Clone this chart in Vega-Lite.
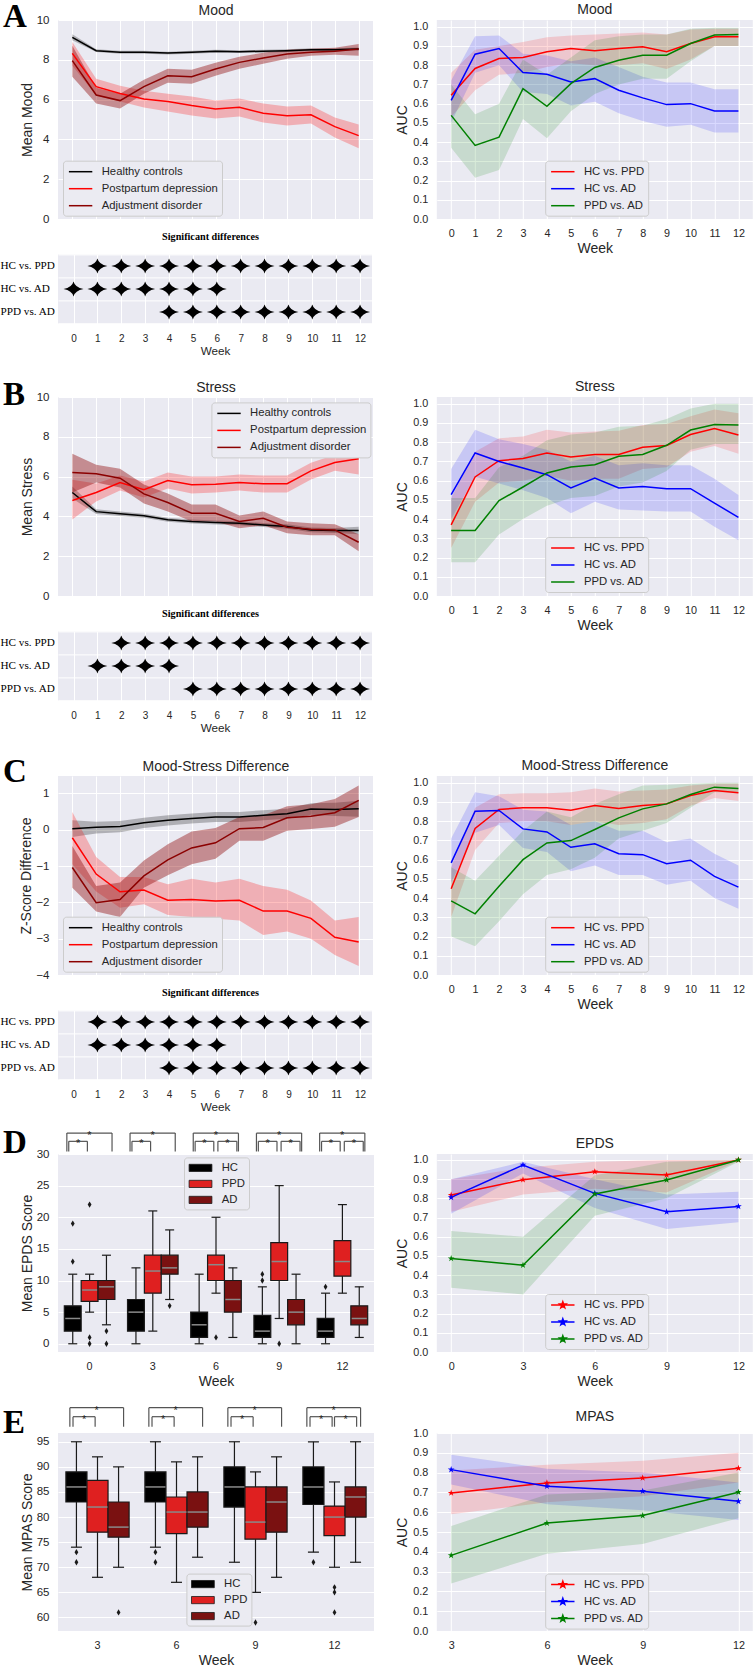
{
"$schema": "https://vega.github.io/schema/vega-lite/v6.json",
"padding": {"left": 0, "top": 0, "right": 0, "bottom": 0},
"background": "white",
"spacing": 12,
"resolve": {"scale": {"color": "independent", "opacity": "independent", "xOffset": "independent"}, "legend": {"color": "independent", "opacity": "independent"}},
"config": {
  "view": {"fill": "#EAEAF2", "stroke": null},
  "font": "Liberation Sans",
  "axis": {"domain": false, "ticks": false, "tickSize": 0, "gridColor": "#FFFFFF", "gridWidth": 1, "gridOpacity": 1, "labelColor": "#262626", "titleColor": "#262626", "labelFont": "Liberation Sans", "titleFont": "Liberation Sans", "labelFontSize": 10.8, "titleFontSize": 14, "titleFontWeight": "normal", "labelFlush": false, "labelOverlap": false},
  "axisX": {"labelPadding": 8.7, "titlePadding": 2.7},
  "axisY": {"labelPadding": 9, "titlePadding": 3.6},
  "title": {"font": "Liberation Sans", "fontSize": 14, "fontWeight": "normal", "color": "#262626", "baseline": "alphabetic", "frame": "group", "offset": 3.2},
  "legend": {"orient": "none", "labelFont": "Liberation Sans", "labelFontSize": 11.3, "labelColor": "#262626", "fillColor": "#EBEBF2", "strokeColor": "#CCCCCC", "cornerRadius": 3, "padding": 4, "rowPadding": 4, "symbolSize": 144, "symbolStrokeWidth": 1.5, "symbolOpacity": 1, "labelOffset": 20.7, "labelLimit": 400, "symbolType": "M-0.85,0H3.05"}
},
"datasets": {
  "mood": [
    {"week":0,"group":"Healthy controls","mean":9.13,"lo":8.98,"hi":9.28},
    {"week":1,"group":"Healthy controls","mean":8.46,"lo":8.39,"hi":8.53},
    {"week":2,"group":"Healthy controls","mean":8.38,"lo":8.31,"hi":8.45},
    {"week":3,"group":"Healthy controls","mean":8.38,"lo":8.31,"hi":8.45},
    {"week":4,"group":"Healthy controls","mean":8.34,"lo":8.27,"hi":8.41},
    {"week":5,"group":"Healthy controls","mean":8.38,"lo":8.31,"hi":8.45},
    {"week":6,"group":"Healthy controls","mean":8.43,"lo":8.36,"hi":8.50},
    {"week":7,"group":"Healthy controls","mean":8.41,"lo":8.34,"hi":8.48},
    {"week":8,"group":"Healthy controls","mean":8.43,"lo":8.36,"hi":8.50},
    {"week":9,"group":"Healthy controls","mean":8.46,"lo":8.39,"hi":8.53},
    {"week":10,"group":"Healthy controls","mean":8.51,"lo":8.44,"hi":8.58},
    {"week":11,"group":"Healthy controls","mean":8.51,"lo":8.44,"hi":8.58},
    {"week":12,"group":"Healthy controls","mean":8.54,"lo":8.46,"hi":8.62},
    {"week":0,"group":"Postpartum depression","mean":8.32,"lo":7.7,"hi":8.9},
    {"week":1,"group":"Postpartum depression","mean":6.65,"lo":6.2,"hi":7.05},
    {"week":2,"group":"Postpartum depression","mean":6.31,"lo":5.9,"hi":6.7},
    {"week":3,"group":"Postpartum depression","mean":6.03,"lo":5.6,"hi":6.45},
    {"week":4,"group":"Postpartum depression","mean":5.9,"lo":5.4,"hi":6.3},
    {"week":5,"group":"Postpartum depression","mean":5.7,"lo":5.2,"hi":6.15},
    {"week":6,"group":"Postpartum depression","mean":5.53,"lo":5.05,"hi":5.95},
    {"week":7,"group":"Postpartum depression","mean":5.61,"lo":5.15,"hi":6.05},
    {"week":8,"group":"Postpartum depression","mean":5.31,"lo":4.85,"hi":5.8},
    {"week":9,"group":"Postpartum depression","mean":5.19,"lo":4.7,"hi":5.65},
    {"week":10,"group":"Postpartum depression","mean":5.24,"lo":4.8,"hi":5.7},
    {"week":11,"group":"Postpartum depression","mean":4.64,"lo":4.1,"hi":5.1},
    {"week":12,"group":"Postpartum depression","mean":4.19,"lo":3.55,"hi":4.75},
    {"week":0,"group":"Adjustment disorder","mean":7.96,"lo":7.15,"hi":8.7},
    {"week":1,"group":"Adjustment disorder","mean":6.23,"lo":5.8,"hi":6.6},
    {"week":2,"group":"Adjustment disorder","mean":5.95,"lo":5.55,"hi":6.3},
    {"week":3,"group":"Adjustment disorder","mean":6.65,"lo":6.3,"hi":7.0},
    {"week":4,"group":"Adjustment disorder","mean":7.2,"lo":6.85,"hi":7.55},
    {"week":5,"group":"Adjustment disorder","mean":7.15,"lo":6.8,"hi":7.5},
    {"week":6,"group":"Adjustment disorder","mean":7.54,"lo":7.2,"hi":7.85},
    {"week":7,"group":"Adjustment disorder","mean":7.87,"lo":7.55,"hi":8.15},
    {"week":8,"group":"Adjustment disorder","mean":8.09,"lo":7.8,"hi":8.35},
    {"week":9,"group":"Adjustment disorder","mean":8.29,"lo":8.05,"hi":8.5},
    {"week":10,"group":"Adjustment disorder","mean":8.38,"lo":8.2,"hi":8.55},
    {"week":11,"group":"Adjustment disorder","mean":8.43,"lo":8.25,"hi":8.6},
    {"week":12,"group":"Adjustment disorder","mean":8.54,"lo":8.2,"hi":8.8}
  ],
  "stress": [
    {"week":0,"group":"Healthy controls","mean":5.2,"lo":4.9,"hi":5.5},
    {"week":1,"group":"Healthy controls","mean":4.24,"lo":4.12,"hi":4.36},
    {"week":2,"group":"Healthy controls","mean":4.13,"lo":4.02,"hi":4.24},
    {"week":3,"group":"Healthy controls","mean":4.03,"lo":3.93,"hi":4.13},
    {"week":4,"group":"Healthy controls","mean":3.83,"lo":3.73,"hi":3.93},
    {"week":5,"group":"Healthy controls","mean":3.74,"lo":3.64,"hi":3.84},
    {"week":6,"group":"Healthy controls","mean":3.69,"lo":3.59,"hi":3.79},
    {"week":7,"group":"Healthy controls","mean":3.66,"lo":3.56,"hi":3.76},
    {"week":8,"group":"Healthy controls","mean":3.57,"lo":3.47,"hi":3.67},
    {"week":9,"group":"Healthy controls","mean":3.49,"lo":3.38,"hi":3.6},
    {"week":10,"group":"Healthy controls","mean":3.32,"lo":3.2,"hi":3.44},
    {"week":11,"group":"Healthy controls","mean":3.29,"lo":3.16,"hi":3.42},
    {"week":12,"group":"Healthy controls","mean":3.29,"lo":3.1,"hi":3.48},
    {"week":0,"group":"Postpartum depression","mean":4.8,"lo":3.85,"hi":5.84},
    {"week":1,"group":"Postpartum depression","mean":5.2,"lo":4.75,"hi":5.65},
    {"week":2,"group":"Postpartum depression","mean":5.7,"lo":5.3,"hi":6.05},
    {"week":3,"group":"Postpartum depression","mean":5.34,"lo":4.95,"hi":5.75},
    {"week":4,"group":"Postpartum depression","mean":5.8,"lo":5.4,"hi":6.2},
    {"week":5,"group":"Postpartum depression","mean":5.59,"lo":5.15,"hi":6.0},
    {"week":6,"group":"Postpartum depression","mean":5.62,"lo":5.2,"hi":6.0},
    {"week":7,"group":"Postpartum depression","mean":5.7,"lo":5.3,"hi":6.1},
    {"week":8,"group":"Postpartum depression","mean":5.64,"lo":5.2,"hi":6.05},
    {"week":9,"group":"Postpartum depression","mean":5.64,"lo":5.2,"hi":6.05},
    {"week":10,"group":"Postpartum depression","mean":6.29,"lo":5.85,"hi":6.7},
    {"week":11,"group":"Postpartum depression","mean":6.71,"lo":6.3,"hi":7.1},
    {"week":12,"group":"Postpartum depression","mean":6.9,"lo":6.1,"hi":7.7},
    {"week":0,"group":"Adjustment disorder","mean":6.2,"lo":5.2,"hi":7.15},
    {"week":1,"group":"Adjustment disorder","mean":6.14,"lo":5.7,"hi":6.6},
    {"week":2,"group":"Adjustment disorder","mean":5.92,"lo":5.45,"hi":6.4},
    {"week":3,"group":"Adjustment disorder","mean":5.13,"lo":4.65,"hi":5.6},
    {"week":4,"group":"Adjustment disorder","mean":4.7,"lo":4.25,"hi":5.15},
    {"week":5,"group":"Adjustment disorder","mean":4.16,"lo":3.75,"hi":4.6},
    {"week":6,"group":"Adjustment disorder","mean":4.16,"lo":3.75,"hi":4.6},
    {"week":7,"group":"Adjustment disorder","mean":3.74,"lo":3.4,"hi":4.05},
    {"week":8,"group":"Adjustment disorder","mean":3.91,"lo":3.55,"hi":4.25},
    {"week":9,"group":"Adjustment disorder","mean":3.46,"lo":3.15,"hi":3.75},
    {"week":10,"group":"Adjustment disorder","mean":3.36,"lo":3.05,"hi":3.65},
    {"week":11,"group":"Adjustment disorder","mean":3.32,"lo":3.05,"hi":3.6},
    {"week":12,"group":"Adjustment disorder","mean":2.7,"lo":2.25,"hi":3.1}
  ],
  "diff": [
    {"week":0,"group":"Healthy controls","mean":0.03,"lo":-0.2,"hi":0.26},
    {"week":1,"group":"Healthy controls","mean":0.07,"lo":-0.1,"hi":0.22},
    {"week":2,"group":"Healthy controls","mean":0.09,"lo":-0.07,"hi":0.24},
    {"week":3,"group":"Healthy controls","mean":0.19,"lo":0.05,"hi":0.33},
    {"week":4,"group":"Healthy controls","mean":0.26,"lo":0.12,"hi":0.4},
    {"week":5,"group":"Healthy controls","mean":0.31,"lo":0.17,"hi":0.45},
    {"week":6,"group":"Healthy controls","mean":0.35,"lo":0.21,"hi":0.49},
    {"week":7,"group":"Healthy controls","mean":0.35,"lo":0.21,"hi":0.49},
    {"week":8,"group":"Healthy controls","mean":0.4,"lo":0.26,"hi":0.54},
    {"week":9,"group":"Healthy controls","mean":0.44,"lo":0.3,"hi":0.58},
    {"week":10,"group":"Healthy controls","mean":0.57,"lo":0.41,"hi":0.73},
    {"week":11,"group":"Healthy controls","mean":0.56,"lo":0.38,"hi":0.74},
    {"week":12,"group":"Healthy controls","mean":0.58,"lo":0.36,"hi":0.8},
    {"week":0,"group":"Postpartum depression","mean":-0.22,"lo":-0.95,"hi":0.49},
    {"week":1,"group":"Postpartum depression","mean":-1.22,"lo":-1.7,"hi":-0.75},
    {"week":2,"group":"Postpartum depression","mean":-1.71,"lo":-2.15,"hi":-1.3},
    {"week":3,"group":"Postpartum depression","mean":-1.66,"lo":-2.05,"hi":-1.3},
    {"week":4,"group":"Postpartum depression","mean":-1.94,"lo":-2.35,"hi":-1.5},
    {"week":5,"group":"Postpartum depression","mean":-1.92,"lo":-2.4,"hi":-1.35},
    {"week":6,"group":"Postpartum depression","mean":-1.96,"lo":-2.45,"hi":-1.45},
    {"week":7,"group":"Postpartum depression","mean":-1.94,"lo":-2.5,"hi":-1.35},
    {"week":8,"group":"Postpartum depression","mean":-2.24,"lo":-2.9,"hi":-1.55},
    {"week":9,"group":"Postpartum depression","mean":-2.24,"lo":-2.8,"hi":-1.65},
    {"week":10,"group":"Postpartum depression","mean":-2.44,"lo":-3.0,"hi":-1.95},
    {"week":11,"group":"Postpartum depression","mean":-2.96,"lo":-3.45,"hi":-2.5},
    {"week":12,"group":"Postpartum depression","mean":-3.09,"lo":-3.75,"hi":-2.4},
    {"week":0,"group":"Adjustment disorder","mean":-1.04,"lo":-1.6,"hi":-0.45},
    {"week":1,"group":"Adjustment disorder","mean":-2.01,"lo":-2.25,"hi":-1.55},
    {"week":2,"group":"Adjustment disorder","mean":-1.92,"lo":-2.4,"hi":-1.45},
    {"week":3,"group":"Adjustment disorder","mean":-1.27,"lo":-1.6,"hi":-0.85},
    {"week":4,"group":"Adjustment disorder","mean":-0.83,"lo":-1.25,"hi":-0.4},
    {"week":5,"group":"Adjustment disorder","mean":-0.5,"lo":-0.95,"hi":-0.05},
    {"week":6,"group":"Adjustment disorder","mean":-0.36,"lo":-0.8,"hi":0.05},
    {"week":7,"group":"Adjustment disorder","mean":0.03,"lo":-0.3,"hi":0.35},
    {"week":8,"group":"Adjustment disorder","mean":0.06,"lo":-0.3,"hi":0.4},
    {"week":9,"group":"Adjustment disorder","mean":0.33,"lo":-0.03,"hi":0.65},
    {"week":10,"group":"Adjustment disorder","mean":0.37,"lo":0.02,"hi":0.7},
    {"week":11,"group":"Adjustment disorder","mean":0.47,"lo":0.08,"hi":0.85},
    {"week":12,"group":"Adjustment disorder","mean":0.81,"lo":0.35,"hi":1.22}
  ],
  "auc_mood": [
    {"week":0,"comp":"HC vs. PPD","auc":0.643,"lo":0.53,"hi":0.76},
    {"week":1,"comp":"HC vs. PPD","auc":0.783,"lo":0.67,"hi":0.88},
    {"week":2,"comp":"HC vs. PPD","auc":0.835,"lo":0.75,"hi":0.9},
    {"week":3,"comp":"HC vs. PPD","auc":0.84,"lo":0.76,"hi":0.92},
    {"week":4,"comp":"HC vs. PPD","auc":0.87,"lo":0.79,"hi":0.945},
    {"week":5,"comp":"HC vs. PPD","auc":0.887,"lo":0.81,"hi":0.955},
    {"week":6,"comp":"HC vs. PPD","auc":0.875,"lo":0.8,"hi":0.96},
    {"week":7,"comp":"HC vs. PPD","auc":0.887,"lo":0.8,"hi":0.965},
    {"week":8,"comp":"HC vs. PPD","auc":0.896,"lo":0.81,"hi":0.97},
    {"week":9,"comp":"HC vs. PPD","auc":0.87,"lo":0.78,"hi":0.96},
    {"week":10,"comp":"HC vs. PPD","auc":0.913,"lo":0.83,"hi":0.985},
    {"week":11,"comp":"HC vs. PPD","auc":0.948,"lo":0.9,"hi":0.99},
    {"week":12,"comp":"HC vs. PPD","auc":0.948,"lo":0.9,"hi":0.99},
    {"week":0,"comp":"HC vs. AD","auc":0.617,"lo":0.5,"hi":0.72},
    {"week":1,"comp":"HC vs. AD","auc":0.857,"lo":0.76,"hi":0.95},
    {"week":2,"comp":"HC vs. AD","auc":0.887,"lo":0.8,"hi":0.955},
    {"week":3,"comp":"HC vs. AD","auc":0.762,"lo":0.66,"hi":0.86},
    {"week":4,"comp":"HC vs. AD","auc":0.753,"lo":0.65,"hi":0.85},
    {"week":5,"comp":"HC vs. AD","auc":0.713,"lo":0.59,"hi":0.82},
    {"week":6,"comp":"HC vs. AD","auc":0.73,"lo":0.61,"hi":0.84},
    {"week":7,"comp":"HC vs. AD","auc":0.67,"lo":0.55,"hi":0.79},
    {"week":8,"comp":"HC vs. AD","auc":0.63,"lo":0.51,"hi":0.74},
    {"week":9,"comp":"HC vs. AD","auc":0.595,"lo":0.48,"hi":0.71},
    {"week":10,"comp":"HC vs. AD","auc":0.6,"lo":0.49,"hi":0.71},
    {"week":11,"comp":"HC vs. AD","auc":0.562,"lo":0.45,"hi":0.675},
    {"week":12,"comp":"HC vs. AD","auc":0.562,"lo":0.45,"hi":0.675},
    {"week":0,"comp":"PPD vs. AD","auc":0.539,"lo":0.37,"hi":0.7},
    {"week":1,"comp":"PPD vs. AD","auc":0.383,"lo":0.215,"hi":0.545},
    {"week":2,"comp":"PPD vs. AD","auc":0.426,"lo":0.255,"hi":0.6},
    {"week":3,"comp":"PPD vs. AD","auc":0.678,"lo":0.52,"hi":0.83},
    {"week":4,"comp":"PPD vs. AD","auc":0.586,"lo":0.42,"hi":0.75},
    {"week":5,"comp":"PPD vs. AD","auc":0.704,"lo":0.56,"hi":0.84},
    {"week":6,"comp":"PPD vs. AD","auc":0.788,"lo":0.65,"hi":0.93},
    {"week":7,"comp":"PPD vs. AD","auc":0.826,"lo":0.7,"hi":0.95},
    {"week":8,"comp":"PPD vs. AD","auc":0.852,"lo":0.73,"hi":0.96},
    {"week":9,"comp":"PPD vs. AD","auc":0.852,"lo":0.73,"hi":0.96},
    {"week":10,"comp":"PPD vs. AD","auc":0.913,"lo":0.82,"hi":0.99},
    {"week":11,"comp":"PPD vs. AD","auc":0.957,"lo":0.9,"hi":0.995},
    {"week":12,"comp":"PPD vs. AD","auc":0.96,"lo":0.9,"hi":0.995}
  ],
  "auc_stress": [
    {"week":0,"comp":"HC vs. PPD","auc":0.37,"lo":0.25,"hi":0.51},
    {"week":1,"comp":"HC vs. PPD","auc":0.619,"lo":0.49,"hi":0.75},
    {"week":2,"comp":"HC vs. PPD","auc":0.704,"lo":0.59,"hi":0.82},
    {"week":3,"comp":"HC vs. PPD","auc":0.715,"lo":0.6,"hi":0.83},
    {"week":4,"comp":"HC vs. PPD","auc":0.744,"lo":0.625,"hi":0.865},
    {"week":5,"comp":"HC vs. PPD","auc":0.723,"lo":0.6,"hi":0.85},
    {"week":6,"comp":"HC vs. PPD","auc":0.736,"lo":0.61,"hi":0.855},
    {"week":7,"comp":"HC vs. PPD","auc":0.736,"lo":0.61,"hi":0.86},
    {"week":8,"comp":"HC vs. PPD","auc":0.774,"lo":0.66,"hi":0.89},
    {"week":9,"comp":"HC vs. PPD","auc":0.783,"lo":0.67,"hi":0.895},
    {"week":10,"comp":"HC vs. PPD","auc":0.84,"lo":0.75,"hi":0.935},
    {"week":11,"comp":"HC vs. PPD","auc":0.871,"lo":0.78,"hi":0.97},
    {"week":12,"comp":"HC vs. PPD","auc":0.837,"lo":0.74,"hi":0.95},
    {"week":0,"comp":"HC vs. AD","auc":0.527,"lo":0.4,"hi":0.66},
    {"week":1,"comp":"HC vs. AD","auc":0.744,"lo":0.62,"hi":0.865},
    {"week":2,"comp":"HC vs. AD","auc":0.7,"lo":0.585,"hi":0.815},
    {"week":3,"comp":"HC vs. AD","auc":0.666,"lo":0.55,"hi":0.79},
    {"week":4,"comp":"HC vs. AD","auc":0.631,"lo":0.51,"hi":0.76},
    {"week":5,"comp":"HC vs. AD","auc":0.562,"lo":0.43,"hi":0.7},
    {"week":6,"comp":"HC vs. AD","auc":0.614,"lo":0.49,"hi":0.73},
    {"week":7,"comp":"HC vs. AD","auc":0.562,"lo":0.45,"hi":0.68},
    {"week":8,"comp":"HC vs. AD","auc":0.57,"lo":0.445,"hi":0.69},
    {"week":9,"comp":"HC vs. AD","auc":0.558,"lo":0.44,"hi":0.68},
    {"week":10,"comp":"HC vs. AD","auc":0.558,"lo":0.44,"hi":0.68},
    {"week":11,"comp":"HC vs. AD","auc":0.483,"lo":0.36,"hi":0.61},
    {"week":12,"comp":"HC vs. AD","auc":0.409,"lo":0.29,"hi":0.525},
    {"week":0,"comp":"PPD vs. AD","auc":0.341,"lo":0.175,"hi":0.51},
    {"week":1,"comp":"PPD vs. AD","auc":0.341,"lo":0.175,"hi":0.51},
    {"week":2,"comp":"PPD vs. AD","auc":0.496,"lo":0.32,"hi":0.67},
    {"week":3,"comp":"PPD vs. AD","auc":0.567,"lo":0.4,"hi":0.73},
    {"week":4,"comp":"PPD vs. AD","auc":0.64,"lo":0.47,"hi":0.81},
    {"week":5,"comp":"PPD vs. AD","auc":0.671,"lo":0.51,"hi":0.84},
    {"week":6,"comp":"PPD vs. AD","auc":0.683,"lo":0.52,"hi":0.85},
    {"week":7,"comp":"PPD vs. AD","auc":0.727,"lo":0.57,"hi":0.88},
    {"week":8,"comp":"PPD vs. AD","auc":0.736,"lo":0.59,"hi":0.885},
    {"week":9,"comp":"PPD vs. AD","auc":0.784,"lo":0.65,"hi":0.92},
    {"week":10,"comp":"PPD vs. AD","auc":0.863,"lo":0.76,"hi":0.975},
    {"week":11,"comp":"PPD vs. AD","auc":0.892,"lo":0.79,"hi":1.0},
    {"week":12,"comp":"PPD vs. AD","auc":0.89,"lo":0.79,"hi":1.0}
  ],
  "auc_diff": [
    {"week":0,"comp":"HC vs. PPD","auc":0.449,"lo":0.3,"hi":0.56},
    {"week":1,"comp":"HC vs. PPD","auc":0.762,"lo":0.65,"hi":0.87},
    {"week":2,"comp":"HC vs. PPD","auc":0.861,"lo":0.79,"hi":0.94},
    {"week":3,"comp":"HC vs. PPD","auc":0.87,"lo":0.8,"hi":0.945},
    {"week":4,"comp":"HC vs. PPD","auc":0.87,"lo":0.8,"hi":0.945},
    {"week":5,"comp":"HC vs. PPD","auc":0.857,"lo":0.78,"hi":0.95},
    {"week":6,"comp":"HC vs. PPD","auc":0.882,"lo":0.8,"hi":0.97},
    {"week":7,"comp":"HC vs. PPD","auc":0.866,"lo":0.78,"hi":0.955},
    {"week":8,"comp":"HC vs. PPD","auc":0.882,"lo":0.79,"hi":0.96},
    {"week":9,"comp":"HC vs. PPD","auc":0.89,"lo":0.81,"hi":0.965},
    {"week":10,"comp":"HC vs. PPD","auc":0.934,"lo":0.88,"hi":0.985},
    {"week":11,"comp":"HC vs. PPD","auc":0.96,"lo":0.92,"hi":0.995},
    {"week":12,"comp":"HC vs. PPD","auc":0.948,"lo":0.905,"hi":0.995},
    {"week":0,"comp":"HC vs. AD","auc":0.583,"lo":0.48,"hi":0.71},
    {"week":1,"comp":"HC vs. AD","auc":0.852,"lo":0.74,"hi":0.95},
    {"week":2,"comp":"HC vs. AD","auc":0.856,"lo":0.78,"hi":0.93},
    {"week":3,"comp":"HC vs. AD","auc":0.76,"lo":0.66,"hi":0.86},
    {"week":4,"comp":"HC vs. AD","auc":0.744,"lo":0.64,"hi":0.85},
    {"week":5,"comp":"HC vs. AD","auc":0.664,"lo":0.54,"hi":0.78},
    {"week":6,"comp":"HC vs. AD","auc":0.682,"lo":0.57,"hi":0.8},
    {"week":7,"comp":"HC vs. AD","auc":0.631,"lo":0.52,"hi":0.75},
    {"week":8,"comp":"HC vs. AD","auc":0.626,"lo":0.52,"hi":0.75},
    {"week":9,"comp":"HC vs. AD","auc":0.579,"lo":0.47,"hi":0.69},
    {"week":10,"comp":"HC vs. AD","auc":0.597,"lo":0.49,"hi":0.71},
    {"week":11,"comp":"HC vs. AD","auc":0.513,"lo":0.4,"hi":0.63},
    {"week":12,"comp":"HC vs. AD","auc":0.457,"lo":0.345,"hi":0.57},
    {"week":0,"comp":"PPD vs. AD","auc":0.386,"lo":0.2,"hi":0.56},
    {"week":1,"comp":"PPD vs. AD","auc":0.318,"lo":0.15,"hi":0.49},
    {"week":2,"comp":"PPD vs. AD","auc":0.461,"lo":0.28,"hi":0.62},
    {"week":3,"comp":"PPD vs. AD","auc":0.6,"lo":0.42,"hi":0.75},
    {"week":4,"comp":"PPD vs. AD","auc":0.687,"lo":0.52,"hi":0.85},
    {"week":5,"comp":"PPD vs. AD","auc":0.699,"lo":0.55,"hi":0.82},
    {"week":6,"comp":"PPD vs. AD","auc":0.757,"lo":0.61,"hi":0.89},
    {"week":7,"comp":"PPD vs. AD","auc":0.817,"lo":0.71,"hi":0.94},
    {"week":8,"comp":"PPD vs. AD","auc":0.864,"lo":0.75,"hi":0.985},
    {"week":9,"comp":"PPD vs. AD","auc":0.89,"lo":0.79,"hi":0.99},
    {"week":10,"comp":"PPD vs. AD","auc":0.939,"lo":0.87,"hi":0.995},
    {"week":11,"comp":"PPD vs. AD","auc":0.977,"lo":0.95,"hi":1.0},
    {"week":12,"comp":"PPD vs. AD","auc":0.97,"lo":0.95,"hi":1.0}
  ],
  "auc_epds": [
    {"week":0,"comp":"HC vs. PPD","auc":0.817,"lo":0.73,"hi":0.9},
    {"week":3,"comp":"HC vs. PPD","auc":0.897,"lo":0.82,"hi":0.96},
    {"week":6,"comp":"HC vs. PPD","auc":0.939,"lo":0.85,"hi":0.99},
    {"week":9,"comp":"HC vs. PPD","auc":0.922,"lo":0.83,"hi":1.0},
    {"week":12,"comp":"HC vs. PPD","auc":1.0,"lo":0.995,"hi":1.0},
    {"week":0,"comp":"HC vs. AD","auc":0.805,"lo":0.72,"hi":0.9},
    {"week":3,"comp":"HC vs. AD","auc":0.974,"lo":0.93,"hi":0.99},
    {"week":6,"comp":"HC vs. AD","auc":0.826,"lo":0.75,"hi":0.9},
    {"week":9,"comp":"HC vs. AD","auc":0.73,"lo":0.64,"hi":0.82},
    {"week":12,"comp":"HC vs. AD","auc":0.758,"lo":0.675,"hi":0.835},
    {"week":0,"comp":"PPD vs. AD","auc":0.487,"lo":0.335,"hi":0.63},
    {"week":3,"comp":"PPD vs. AD","auc":0.452,"lo":0.3,"hi":0.6},
    {"week":6,"comp":"PPD vs. AD","auc":0.823,"lo":0.71,"hi":0.92},
    {"week":9,"comp":"PPD vs. AD","auc":0.896,"lo":0.8,"hi":0.99},
    {"week":12,"comp":"PPD vs. AD","auc":1.0,"lo":0.99,"hi":1.0}
  ],
  "auc_mpas": [
    {"week":3,"comp":"HC vs. PPD","auc":0.697,"lo":0.59,"hi":0.81},
    {"week":6,"comp":"HC vs. PPD","auc":0.748,"lo":0.65,"hi":0.84},
    {"week":9,"comp":"HC vs. PPD","auc":0.773,"lo":0.68,"hi":0.86},
    {"week":12,"comp":"HC vs. PPD","auc":0.822,"lo":0.75,"hi":0.9},
    {"week":3,"comp":"HC vs. AD","auc":0.815,"lo":0.74,"hi":0.89},
    {"week":6,"comp":"HC vs. AD","auc":0.731,"lo":0.64,"hi":0.82},
    {"week":9,"comp":"HC vs. AD","auc":0.706,"lo":0.61,"hi":0.8},
    {"week":12,"comp":"HC vs. AD","auc":0.655,"lo":0.56,"hi":0.75},
    {"week":3,"comp":"PPD vs. AD","auc":0.382,"lo":0.24,"hi":0.53},
    {"week":6,"comp":"PPD vs. AD","auc":0.545,"lo":0.39,"hi":0.69},
    {"week":9,"comp":"PPD vs. AD","auc":0.583,"lo":0.44,"hi":0.71},
    {"week":12,"comp":"PPD vs. AD","auc":0.701,"lo":0.57,"hi":0.8}
  ],
  "sig_mood": [
    {"week":1,"comp":"HC vs. PPD"},{"week":2,"comp":"HC vs. PPD"},{"week":3,"comp":"HC vs. PPD"},{"week":4,"comp":"HC vs. PPD"},{"week":5,"comp":"HC vs. PPD"},{"week":6,"comp":"HC vs. PPD"},{"week":7,"comp":"HC vs. PPD"},{"week":8,"comp":"HC vs. PPD"},{"week":9,"comp":"HC vs. PPD"},{"week":10,"comp":"HC vs. PPD"},{"week":11,"comp":"HC vs. PPD"},{"week":12,"comp":"HC vs. PPD"},
    {"week":0,"comp":"HC vs. AD"},{"week":1,"comp":"HC vs. AD"},{"week":2,"comp":"HC vs. AD"},{"week":3,"comp":"HC vs. AD"},{"week":4,"comp":"HC vs. AD"},{"week":5,"comp":"HC vs. AD"},{"week":6,"comp":"HC vs. AD"},
    {"week":4,"comp":"PPD vs. AD"},{"week":5,"comp":"PPD vs. AD"},{"week":6,"comp":"PPD vs. AD"},{"week":7,"comp":"PPD vs. AD"},{"week":8,"comp":"PPD vs. AD"},{"week":9,"comp":"PPD vs. AD"},{"week":10,"comp":"PPD vs. AD"},{"week":11,"comp":"PPD vs. AD"},{"week":12,"comp":"PPD vs. AD"}
  ],
  "sig_stress": [
    {"week":2,"comp":"HC vs. PPD"},{"week":3,"comp":"HC vs. PPD"},{"week":4,"comp":"HC vs. PPD"},{"week":5,"comp":"HC vs. PPD"},{"week":6,"comp":"HC vs. PPD"},{"week":7,"comp":"HC vs. PPD"},{"week":8,"comp":"HC vs. PPD"},{"week":9,"comp":"HC vs. PPD"},{"week":10,"comp":"HC vs. PPD"},{"week":11,"comp":"HC vs. PPD"},{"week":12,"comp":"HC vs. PPD"},
    {"week":1,"comp":"HC vs. AD"},{"week":2,"comp":"HC vs. AD"},{"week":3,"comp":"HC vs. AD"},{"week":4,"comp":"HC vs. AD"},
    {"week":5,"comp":"PPD vs. AD"},{"week":6,"comp":"PPD vs. AD"},{"week":7,"comp":"PPD vs. AD"},{"week":8,"comp":"PPD vs. AD"},{"week":9,"comp":"PPD vs. AD"},{"week":10,"comp":"PPD vs. AD"},{"week":11,"comp":"PPD vs. AD"},{"week":12,"comp":"PPD vs. AD"}
  ],
  "sig_diff": [
    {"week":1,"comp":"HC vs. PPD"},{"week":2,"comp":"HC vs. PPD"},{"week":3,"comp":"HC vs. PPD"},{"week":4,"comp":"HC vs. PPD"},{"week":5,"comp":"HC vs. PPD"},{"week":6,"comp":"HC vs. PPD"},{"week":7,"comp":"HC vs. PPD"},{"week":8,"comp":"HC vs. PPD"},{"week":9,"comp":"HC vs. PPD"},{"week":10,"comp":"HC vs. PPD"},{"week":11,"comp":"HC vs. PPD"},{"week":12,"comp":"HC vs. PPD"},
    {"week":1,"comp":"HC vs. AD"},{"week":2,"comp":"HC vs. AD"},{"week":3,"comp":"HC vs. AD"},{"week":4,"comp":"HC vs. AD"},{"week":5,"comp":"HC vs. AD"},{"week":6,"comp":"HC vs. AD"},
    {"week":4,"comp":"PPD vs. AD"},{"week":5,"comp":"PPD vs. AD"},{"week":6,"comp":"PPD vs. AD"},{"week":7,"comp":"PPD vs. AD"},{"week":8,"comp":"PPD vs. AD"},{"week":9,"comp":"PPD vs. AD"},{"week":10,"comp":"PPD vs. AD"},{"week":11,"comp":"PPD vs. AD"},{"week":12,"comp":"PPD vs. AD"}
  ],
  "epds_box": [
    {"week":0,"group":"HC","lo":0,"q1":2,"med":4,"q3":6,"hi":11},
    {"week":0,"group":"PPD","lo":5,"q1":6.7,"med":8.5,"q3":10,"hi":11},
    {"week":0,"group":"AD","lo":3,"q1":7,"med":9,"q3":10,"hi":14},
    {"week":3,"group":"HC","lo":0,"q1":2,"med":5,"q3":7,"hi":12},
    {"week":3,"group":"PPD","lo":2,"q1":8,"med":11.5,"q3":14,"hi":21},
    {"week":3,"group":"AD","lo":7,"q1":11,"med":12,"q3":14,"hi":18},
    {"week":6,"group":"HC","lo":0,"q1":1,"med":3,"q3":5,"hi":11},
    {"week":6,"group":"PPD","lo":8,"q1":10,"med":12.5,"q3":14,"hi":20},
    {"week":6,"group":"AD","lo":1,"q1":5,"med":7,"q3":10,"hi":12},
    {"week":9,"group":"HC","lo":0,"q1":1,"med":2,"q3":4.5,"hi":9},
    {"week":9,"group":"PPD","lo":4,"q1":10,"med":13,"q3":16,"hi":25},
    {"week":9,"group":"AD","lo":0,"q1":3,"med":5,"q3":7,"hi":11},
    {"week":12,"group":"HC","lo":0,"q1":1,"med":2,"q3":4,"hi":8},
    {"week":12,"group":"PPD","lo":8,"q1":10.7,"med":13,"q3":16.3,"hi":22},
    {"week":12,"group":"AD","lo":1,"q1":3,"med":4,"q3":6,"hi":9}
  ],
  "epds_out": [
    {"week":0,"group":"HC","value":13},{"week":0,"group":"HC","value":19},
    {"week":0,"group":"PPD","value":22},{"week":0,"group":"PPD","value":1},{"week":0,"group":"PPD","value":0},
    {"week":0,"group":"AD","value":2},{"week":0,"group":"AD","value":0},
    {"week":3,"group":"AD","value":6},
    {"week":6,"group":"PPD","value":1},
    {"week":9,"group":"HC","value":10},{"week":9,"group":"HC","value":11},{"week":9,"group":"PPD","value":0},
    {"week":12,"group":"HC","value":9}
  ],
  "epds_br": [
    {"week":0,"a":"HC","b":"PPD"},{"week":0,"a":"HC","b":"AD"},
    {"week":3,"a":"HC","b":"PPD"},{"week":3,"a":"HC","b":"AD"},
    {"week":6,"a":"HC","b":"PPD"},{"week":6,"a":"PPD","b":"AD"},{"week":6,"a":"HC","b":"AD"},
    {"week":9,"a":"HC","b":"PPD"},{"week":9,"a":"PPD","b":"AD"},{"week":9,"a":"HC","b":"AD"},
    {"week":12,"a":"HC","b":"PPD"},{"week":12,"a":"PPD","b":"AD"},{"week":12,"a":"HC","b":"AD"}
  ],
  "mpas_box": [
    {"week":3,"group":"HC","lo":74,"q1":83,"med":86,"q3":89,"hi":95},
    {"week":3,"group":"PPD","lo":68,"q1":77,"med":82,"q3":87.3,"hi":92},
    {"week":3,"group":"AD","lo":70,"q1":76,"med":78,"q3":83,"hi":90},
    {"week":6,"group":"HC","lo":74,"q1":83,"med":86,"q3":89,"hi":95},
    {"week":6,"group":"PPD","lo":67,"q1":76.7,"med":81,"q3":84,"hi":91},
    {"week":6,"group":"AD","lo":72,"q1":78,"med":81,"q3":85,"hi":92},
    {"week":9,"group":"HC","lo":71,"q1":82,"med":86,"q3":90,"hi":95},
    {"week":9,"group":"PPD","lo":65,"q1":75.6,"med":79,"q3":86,"hi":89},
    {"week":9,"group":"AD","lo":68,"q1":77,"med":83,"q3":86,"hi":92},
    {"week":12,"group":"HC","lo":73,"q1":82.5,"med":86,"q3":90,"hi":95},
    {"week":12,"group":"PPD","lo":70,"q1":76.3,"med":80,"q3":82.2,"hi":87},
    {"week":12,"group":"AD","lo":71,"q1":80,"med":84,"q3":86,"hi":95}
  ],
  "mpas_out": [
    {"week":3,"group":"HC","value":73},{"week":3,"group":"HC","value":71},{"week":3,"group":"AD","value":61},
    {"week":6,"group":"HC","value":73},{"week":6,"group":"HC","value":71},
    {"week":9,"group":"PPD","value":59},
    {"week":12,"group":"HC","value":71},{"week":12,"group":"PPD","value":66},{"week":12,"group":"PPD","value":65},{"week":12,"group":"PPD","value":61}
  ],
  "mpas_br": [
    {"week":3,"a":"HC","b":"PPD"},{"week":3,"a":"HC","b":"AD"},
    {"week":6,"a":"HC","b":"PPD"},{"week":6,"a":"HC","b":"AD"},
    {"week":9,"a":"HC","b":"PPD"},{"week":9,"a":"HC","b":"AD"},
    {"week":12,"a":"HC","b":"PPD"},{"week":12,"a":"PPD","b":"AD"},{"week":12,"a":"HC","b":"AD"}
  ]
},
"vconcat": [
 {
  "columns": 2, "align": "each", "spacing": {"row": 20, "column": 21.8},
  "resolve": {"scale": {"color": "independent", "opacity": "independent"}, "legend": {"color": "independent", "opacity": "independent"}},
  "concat": [
   {
    "resolve": {"scale": {"color": "independent"}, "legend": {"color": "independent"}},
    "vconcat": [
     {
      "width": 315, "height": 199,
      "data": {"name": "mood"},
      "encoding": {"x": {"field": "week", "type": "quantitative", "scale": {"domain": [-0.6, 12.6], "nice": false, "zero": false}, "axis": {"orient": "top", "values": [0,1,2,3,4,5,6,7,8,9,10,11,12], "tickCount": 40, "format": "d", "labels": false, "title": "Mood", "titleBaseline": "alphabetic", "titlePadding": 6, "grid": true}}},
      "layer": [
       {"layer": [
         {"transform": [{"filter": "datum.group != 'Adjustment disorder'"}], "mark": {"type": "area", "opacity": 0.25}, "encoding": {
           "y": {"field": "lo", "type": "quantitative", "scale": {"domain": [0, 10], "nice": false, "zero": false}, "axis": {"values": [0,2,4,6,8,10], "tickCount": 40, "format": "d", "title": "Mean Mood", "labelFontSize": 11.5, "titlePadding": 2, "grid": true}},
           "y2": {"field": "hi"},
           "color": {"field": "group", "type": "nominal", "scale": {"domain": ["Healthy controls","Postpartum depression","Adjustment disorder"], "range": ["#000000","#FF0000","#8B0000"]}, "legend": {"title": null, "legendX": 5, "legendY": 140.7}}}},
         {"transform": [{"filter": "datum.group == 'Adjustment disorder'"}], "mark": {"type": "area", "opacity": 0.4}, "encoding": {"y": {"field": "lo", "type": "quantitative"}, "y2": {"field": "hi"}, "color": {"field": "group", "type": "nominal"}}}
       ]},
       {"mark": {"type": "line", "strokeWidth": 1.5}, "encoding": {
         "y": {"field": "mean", "type": "quantitative", "scale": {"domain": [0, 10], "nice": false, "zero": false}, "axis": {"orient": "right", "title": "A", "titleX": -370.6, "titleY": 6.7, "titleAngle": 0, "titleAlign": "left", "titleBaseline": "alphabetic", "titleFont": "Liberation Serif", "titleFontSize": 33, "titleFontWeight": "bold", "titleColor": "#000000", "labels": false, "grid": false, "minExtent": 0, "maxExtent": 0, "offset": 0}},
         "color": {"field": "group", "type": "nominal"}}}
      ],
      "resolve": {"scale": {"y": "independent"}}
     },
     {
      "width": 314, "height": 69,
      "data": {"name": "sig_mood"},
      "title": {"text": "Significant differences", "font": "Liberation Serif", "fontSize": 10.2, "fontWeight": "bold", "color": "#000000", "offset": 6, "dx": -4.5},
      "mark": {"type": "point", "shape": "M0,-0.75Q0.15,-0.15,1,0Q0.15,0.15,0,0.75Q-0.15,0.15,-1,0Q-0.15,-0.15,0,-0.75Z", "filled": true, "color": "#000000", "size": 400, "opacity": 1},
      "encoding": {
       "x": {"field": "week", "type": "quantitative", "scale": {"domain": [-0.65, 12.5], "nice": false, "zero": false}, "axis": {"values": [0,1,2,3,4,5,6,7,8,9,10,11,12], "tickCount": 40, "format": "d", "title": "Week", "grid": true, "labelFontSize": 10, "titleFontSize": 11.7, "labelPadding": 9.7, "titlePadding": 2.3}},
       "y": {"field": "comp", "type": "nominal", "scale": {"type": "band", "domain": ["HC vs. PPD","HC vs. AD","PPD vs. AD"], "paddingInner": 0, "paddingOuter": 0}, "axis": {"title": null, "grid": true, "tickBand": "extent", "labelFont": "Liberation Serif", "labelFontSize": 11.2, "labelColor": "#000000", "labelAlign": "left", "labelPadding": 58, "labelBaseline": "middle"}}
      }
     }
    ],
    "spacing": 6.4
   },
   {
    "width": 316, "height": 199,
    "data": {"name": "auc_mood"},
    "title": {"text": "Mood"},
    "encoding": {"x": {"field": "week", "type": "quantitative", "scale": {"domain": [-0.6, 12.6], "nice": false, "zero": false}, "axis": {"values": [0,1,2,3,4,5,6,7,8,9,10,11,12], "tickCount": 40, "format": "d", "title": "Week", "grid": true}}},
    "layer": [
     {"mark": {"type": "area", "opacity": 0.15}, "encoding": {
       "y": {"field": "lo", "type": "quantitative", "scale": {"domain": [0, 1.035], "nice": false, "zero": false}, "axis": {"values": [0,0.1,0.2,0.3,0.4,0.5,0.6,0.7,0.8,0.9,1.0], "tickCount": 40, "format": ".1f", "title": "AUC", "grid": true}},
       "y2": {"field": "hi"},
       "color": {"field": "comp", "type": "nominal", "scale": {"domain": ["HC vs. PPD","HC vs. AD","PPD vs. AD"], "range": ["#FF0000","#0000FF","#008000"]}, "legend": {"title": null, "legendX": 108.4, "legendY": 140.7}}}},
     {"mark": {"type": "line", "strokeWidth": 1.5}, "encoding": {"y": {"field": "auc", "type": "quantitative"}, "color": {"field": "comp", "type": "nominal"}}}
    ]
   },
   {
    "resolve": {"scale": {"color": "independent"}, "legend": {"color": "independent"}},
    "vconcat": [
     {
      "width": 315, "height": 199,
      "data": {"name": "stress"},
      "encoding": {"x": {"field": "week", "type": "quantitative", "scale": {"domain": [-0.6, 12.6], "nice": false, "zero": false}, "axis": {"orient": "top", "values": [0,1,2,3,4,5,6,7,8,9,10,11,12], "tickCount": 40, "format": "d", "labels": false, "title": "Stress", "titleBaseline": "alphabetic", "titlePadding": 6, "grid": true}}},
      "layer": [
       {"layer": [
         {"transform": [{"filter": "datum.group != 'Adjustment disorder'"}], "mark": {"type": "area", "opacity": 0.25}, "encoding": {
           "y": {"field": "lo", "type": "quantitative", "scale": {"domain": [0, 10], "nice": false, "zero": false}, "axis": {"values": [0,2,4,6,8,10], "tickCount": 40, "format": "d", "title": "Mean Stress", "labelFontSize": 11.5, "titlePadding": 2, "grid": true}},
           "y2": {"field": "hi"},
           "color": {"field": "group", "type": "nominal", "scale": {"domain": ["Healthy controls","Postpartum depression","Adjustment disorder"], "range": ["#000000","#FF0000","#8B0000"]}, "legend": {"title": null, "legendX": 153.4, "legendY": 5.4}}}},
         {"transform": [{"filter": "datum.group == 'Adjustment disorder'"}], "mark": {"type": "area", "opacity": 0.4}, "encoding": {"y": {"field": "lo", "type": "quantitative"}, "y2": {"field": "hi"}, "color": {"field": "group", "type": "nominal"}}}
       ]},
       {"mark": {"type": "line", "strokeWidth": 1.5}, "encoding": {
         "y": {"field": "mean", "type": "quantitative", "scale": {"domain": [0, 10], "nice": false, "zero": false}, "axis": {"orient": "right", "title": "B", "titleX": -370.6, "titleY": 7.7, "titleAngle": 0, "titleAlign": "left", "titleBaseline": "alphabetic", "titleFont": "Liberation Serif", "titleFontSize": 33, "titleFontWeight": "bold", "titleColor": "#000000", "labels": false, "grid": false, "minExtent": 0, "maxExtent": 0, "offset": 0}},
         "color": {"field": "group", "type": "nominal"}}}
      ],
      "resolve": {"scale": {"y": "independent"}}
     },
     {
      "width": 314, "height": 69,
      "data": {"name": "sig_stress"},
      "title": {"text": "Significant differences", "font": "Liberation Serif", "fontSize": 10.2, "fontWeight": "bold", "color": "#000000", "offset": 6, "dx": -4.5},
      "mark": {"type": "point", "shape": "M0,-0.75Q0.15,-0.15,1,0Q0.15,0.15,0,0.75Q-0.15,0.15,-1,0Q-0.15,-0.15,0,-0.75Z", "filled": true, "color": "#000000", "size": 400, "opacity": 1},
      "encoding": {
       "x": {"field": "week", "type": "quantitative", "scale": {"domain": [-0.65, 12.5], "nice": false, "zero": false}, "axis": {"values": [0,1,2,3,4,5,6,7,8,9,10,11,12], "tickCount": 40, "format": "d", "title": "Week", "grid": true, "labelFontSize": 10, "titleFontSize": 11.7, "labelPadding": 9.7, "titlePadding": 2.3}},
       "y": {"field": "comp", "type": "nominal", "scale": {"type": "band", "domain": ["HC vs. PPD","HC vs. AD","PPD vs. AD"], "paddingInner": 0, "paddingOuter": 0}, "axis": {"title": null, "grid": true, "tickBand": "extent", "labelFont": "Liberation Serif", "labelFontSize": 11.2, "labelColor": "#000000", "labelAlign": "left", "labelPadding": 58, "labelBaseline": "middle"}}
      }
     }
    ],
    "spacing": 6.4
   },
   {
    "width": 316, "height": 199,
    "data": {"name": "auc_stress"},
    "title": {"text": "Stress"},
    "encoding": {"x": {"field": "week", "type": "quantitative", "scale": {"domain": [-0.6, 12.6], "nice": false, "zero": false}, "axis": {"values": [0,1,2,3,4,5,6,7,8,9,10,11,12], "tickCount": 40, "format": "d", "title": "Week", "grid": true}}},
    "layer": [
     {"mark": {"type": "area", "opacity": 0.15}, "encoding": {
       "y": {"field": "lo", "type": "quantitative", "scale": {"domain": [0, 1.035], "nice": false, "zero": false}, "axis": {"values": [0,0.1,0.2,0.3,0.4,0.5,0.6,0.7,0.8,0.9,1.0], "tickCount": 40, "format": ".1f", "title": "AUC", "grid": true}},
       "y2": {"field": "hi"},
       "color": {"field": "comp", "type": "nominal", "scale": {"domain": ["HC vs. PPD","HC vs. AD","PPD vs. AD"], "range": ["#FF0000","#0000FF","#008000"]}, "legend": {"title": null, "legendX": 108.4, "legendY": 140}}}},
     {"mark": {"type": "line", "strokeWidth": 1.5}, "encoding": {"y": {"field": "auc", "type": "quantitative"}, "color": {"field": "comp", "type": "nominal"}}}
    ]
   },
   {
    "resolve": {"scale": {"color": "independent"}, "legend": {"color": "independent"}},
    "vconcat": [
     {
      "width": 315, "height": 199,
      "data": {"name": "diff"},
      "encoding": {"x": {"field": "week", "type": "quantitative", "scale": {"domain": [-0.6, 12.6], "nice": false, "zero": false}, "axis": {"orient": "top", "values": [0,1,2,3,4,5,6,7,8,9,10,11,12], "tickCount": 40, "format": "d", "labels": false, "title": "Mood-Stress Difference", "titleBaseline": "alphabetic", "titlePadding": 6, "grid": true}}},
      "layer": [
       {"layer": [
         {"transform": [{"filter": "datum.group != 'Adjustment disorder'"}], "mark": {"type": "area", "opacity": 0.25}, "encoding": {
           "y": {"field": "lo", "type": "quantitative", "scale": {"domain": [-4, 1.48], "nice": false, "zero": false}, "axis": {"values": [-4,-3,-2,-1,0,1], "tickCount": 40, "format": "d", "title": "Z-Score Difference", "labelFontSize": 11.5, "titlePadding": 2, "grid": true}},
           "y2": {"field": "hi"},
           "color": {"field": "group", "type": "nominal", "scale": {"domain": ["Healthy controls","Postpartum depression","Adjustment disorder"], "range": ["#000000","#FF0000","#8B0000"]}, "legend": {"title": null, "legendX": 5, "legendY": 140.7}}}},
         {"transform": [{"filter": "datum.group == 'Adjustment disorder'"}], "mark": {"type": "area", "opacity": 0.4}, "encoding": {"y": {"field": "lo", "type": "quantitative"}, "y2": {"field": "hi"}, "color": {"field": "group", "type": "nominal"}}}
       ]},
       {"mark": {"type": "line", "strokeWidth": 1.5}, "encoding": {
         "y": {"field": "mean", "type": "quantitative", "scale": {"domain": [-4, 1.48], "nice": false, "zero": false}, "axis": {"orient": "right", "title": "C", "titleX": -370.6, "titleY": 5.7, "titleAngle": 0, "titleAlign": "left", "titleBaseline": "alphabetic", "titleFont": "Liberation Serif", "titleFontSize": 33, "titleFontWeight": "bold", "titleColor": "#000000", "labels": false, "grid": false, "minExtent": 0, "maxExtent": 0, "offset": 0}},
         "color": {"field": "group", "type": "nominal"}}}
      ],
      "resolve": {"scale": {"y": "independent"}}
     },
     {
      "width": 314, "height": 69,
      "data": {"name": "sig_diff"},
      "title": {"text": "Significant differences", "font": "Liberation Serif", "fontSize": 10.2, "fontWeight": "bold", "color": "#000000", "offset": 6, "dx": -4.5},
      "mark": {"type": "point", "shape": "M0,-0.75Q0.15,-0.15,1,0Q0.15,0.15,0,0.75Q-0.15,0.15,-1,0Q-0.15,-0.15,0,-0.75Z", "filled": true, "color": "#000000", "size": 400, "opacity": 1},
      "encoding": {
       "x": {"field": "week", "type": "quantitative", "scale": {"domain": [-0.65, 12.5], "nice": false, "zero": false}, "axis": {"values": [0,1,2,3,4,5,6,7,8,9,10,11,12], "tickCount": 40, "format": "d", "title": "Week", "grid": true, "labelFontSize": 10, "titleFontSize": 11.7, "labelPadding": 9.7, "titlePadding": 2.3}},
       "y": {"field": "comp", "type": "nominal", "scale": {"type": "band", "domain": ["HC vs. PPD","HC vs. AD","PPD vs. AD"], "paddingInner": 0, "paddingOuter": 0}, "axis": {"title": null, "grid": true, "tickBand": "extent", "labelFont": "Liberation Serif", "labelFontSize": 11.2, "labelColor": "#000000", "labelAlign": "left", "labelPadding": 58, "labelBaseline": "middle"}}
      }
     }
    ],
    "spacing": 6.4
   },
   {
    "width": 316, "height": 199,
    "data": {"name": "auc_diff"},
    "title": {"text": "Mood-Stress Difference"},
    "encoding": {"x": {"field": "week", "type": "quantitative", "scale": {"domain": [-0.6, 12.6], "nice": false, "zero": false}, "axis": {"values": [0,1,2,3,4,5,6,7,8,9,10,11,12], "tickCount": 40, "format": "d", "title": "Week", "grid": true}}},
    "layer": [
     {"mark": {"type": "area", "opacity": 0.15}, "encoding": {
       "y": {"field": "lo", "type": "quantitative", "scale": {"domain": [0, 1.035], "nice": false, "zero": false}, "axis": {"values": [0,0.1,0.2,0.3,0.4,0.5,0.6,0.7,0.8,0.9,1.0], "tickCount": 40, "format": ".1f", "title": "AUC", "grid": true}},
       "y2": {"field": "hi"},
       "color": {"field": "comp", "type": "nominal", "scale": {"domain": ["HC vs. PPD","HC vs. AD","PPD vs. AD"], "range": ["#FF0000","#0000FF","#008000"]}, "legend": {"title": null, "legendX": 108.4, "legendY": 140.7}}}},
     {"mark": {"type": "line", "strokeWidth": 1.5}, "encoding": {"y": {"field": "auc", "type": "quantitative"}, "color": {"field": "comp", "type": "nominal"}}}
    ]
   }
  ]
 },
 {
  "columns": 2, "align": "each", "spacing": {"row": 15, "column": 20.8},
  "resolve": {"scale": {"color": "independent", "opacity": "independent", "xOffset": "independent"}, "legend": {"color": "independent", "opacity": "independent"}},
  "concat": [
   {
    "width": 316, "height": 198,
    "layer": [
     {
      "data": {"name": "epds_box"},
      "encoding": {
       "x": {"field": "week", "type": "ordinal", "scale": {"domain": [0,3,6,9,12], "paddingInner": 0.2, "paddingOuter": 0.1}, "axis": {"title": "Week", "labelAngle": 0, "grid": false}},
       "xOffset": {"field": "group", "type": "nominal", "scale": {"domain": ["HC","PPD","AD"], "paddingInner": 0, "paddingOuter": 0}}
      },
      "layer": [
       {"mark": {"type": "rule", "color": "#1a1a1a", "strokeWidth": 1.2}, "encoding": {"y": {"field": "lo", "type": "quantitative", "scale": {"domain": [-1.3, 30], "nice": false, "zero": false}, "axis": {"values": [0,5,10,15,20,25,30], "tickCount": 40, "format": "d", "title": "Mean EPDS Score", "labelFontSize": 11.5, "titlePadding": 2, "grid": true}}, "y2": {"field": "q1"}}},
       {"mark": {"type": "rule", "color": "#1a1a1a", "strokeWidth": 1.2}, "encoding": {"y": {"field": "q3", "type": "quantitative"}, "y2": {"field": "hi"}}},
       {"mark": {"type": "tick", "color": "#1a1a1a", "size": 9, "thickness": 1.2, "opacity": 1}, "encoding": {"y": {"field": "lo", "type": "quantitative"}}},
       {"mark": {"type": "tick", "color": "#1a1a1a", "size": 9, "thickness": 1.2, "opacity": 1}, "encoding": {"y": {"field": "hi", "type": "quantitative"}}},
       {"mark": {"type": "bar", "stroke": "#1a1a1a", "strokeWidth": 1.2}, "encoding": {"y": {"field": "q1", "type": "quantitative"}, "y2": {"field": "q3"},
         "color": {"field": "group", "type": "nominal", "scale": {"domain": ["HC","PPD","AD"], "range": ["#000000","#DF2020","#7A1111"]}, "legend": {"title": null, "legendX": 126, "legendY": 3.4, "symbolType": "M-0.9,-0.6H2.9V0.6H-0.9Z", "symbolStrokeWidth": 0.8}}}},
       {"mark": {"type": "tick", "color": "#8a8a8a", "size": 15, "thickness": 1.5, "opacity": 1}, "encoding": {"y": {"field": "med", "type": "quantitative"}}},
       {"data": {"name": "epds_out"}, "mark": {"type": "point", "shape": "M0,-1L0.6,0L0,1L-0.6,0Z", "filled": true, "color": "#1a1a1a", "size": 40, "opacity": 1}, "encoding": {"y": {"field": "value", "type": "quantitative"}}}
      ]
     },
     {
      "data": {"name": "epds_br"},
      "transform": [
       {"calculate": "datum.week + (datum.a == 'HC' ? (datum.b == 'AD' ? -1.08 : -0.99) : 0.09)", "as": "x1"},
       {"calculate": "datum.week + (datum.b == 'AD' ? (datum.a == 'HC' ? 1.065 : 0.99) : -0.105)", "as": "x2"},
       {"calculate": "datum.a == 'HC' && datum.b == 'AD' ? 33.3 : 32.0", "as": "top"},
       {"calculate": "(datum.x1 + datum.x2) / 2", "as": "mid"}
      ],
      "encoding": {"x": {"field": "x1", "type": "quantitative", "scale": {"domain": [-1.5, 13.5], "nice": false, "zero": false}, "axis": null}},
      "layer": [
       {"mark": {"type": "rule", "color": "#555555", "strokeWidth": 1.2}, "encoding": {"x2": {"field": "x2"}, "y": {"field": "top", "type": "quantitative", "scale": {"domain": [-1.3, 30], "nice": false, "zero": false}, "axis": {"orient": "right", "title": "D", "titleX": -371.6, "titleY": -1.6, "titleAngle": 0, "titleAlign": "left", "titleBaseline": "alphabetic", "titleFont": "Liberation Serif", "titleFontSize": 33, "titleFontWeight": "bold", "titleColor": "#000000", "labels": false, "grid": false, "minExtent": 0, "maxExtent": 0, "offset": 0}}}},
       {"mark": {"type": "rule", "color": "#555555", "strokeWidth": 1.2}, "encoding": {"y": {"field": "top", "type": "quantitative"}, "y2": {"datum": 30.4}}},
       {"mark": {"type": "rule", "color": "#555555", "strokeWidth": 1.2}, "encoding": {"x": {"field": "x2", "type": "quantitative"}, "y": {"field": "top", "type": "quantitative"}, "y2": {"datum": 30.4}}},
       {"mark": {"type": "text", "text": "*", "fontSize": 11, "color": "#262626", "baseline": "alphabetic", "dy": 6}, "encoding": {"x": {"field": "mid", "type": "quantitative"}, "y": {"field": "top", "type": "quantitative"}}}
      ]
     }
    ],
    "resolve": {"scale": {"x": "independent", "y": "independent"}}
   },
   {
    "width": 316, "height": 198,
    "data": {"name": "auc_epds"},
    "title": {"text": "EPDS"},
    "encoding": {"x": {"field": "week", "type": "quantitative", "scale": {"domain": [-0.6, 12.6], "nice": false, "zero": false}, "axis": {"values": [0,3,6,9,12], "tickCount": 40, "format": "d", "title": "Week", "grid": true}}},
    "layer": [
     {"mark": {"type": "area", "opacity": 0.15}, "encoding": {
       "y": {"field": "lo", "type": "quantitative", "scale": {"domain": [0, 1.031], "nice": false, "zero": false}, "axis": {"values": [0,0.1,0.2,0.3,0.4,0.5,0.6,0.7,0.8,0.9,1.0], "tickCount": 40, "format": ".1f", "title": "AUC", "grid": true}},
       "y2": {"field": "hi"},
       "color": {"field": "comp", "type": "nominal", "scale": {"domain": ["HC vs. PPD","HC vs. AD","PPD vs. AD"], "range": ["#FF0000","#0000FF","#008000"]}, "legend": {"title": null, "legendX": 108.4, "legendY": 140, "symbolType": "M-0.85,0H3.05M1.1,-0.55L1.23,-0.18L1.62,-0.17L1.31,0.06L1.42,0.44L1.1,0.22L0.78,0.44L0.89,0.06L0.58,-0.17L0.97,-0.18Z"}}}},
     {"mark": {"type": "line", "strokeWidth": 1.5}, "encoding": {"y": {"field": "auc", "type": "quantitative"}, "color": {"field": "comp", "type": "nominal"}}},
     {"mark": {"type": "point", "shape": "M0,-1L0.225,-0.309L0.951,-0.309L0.363,0.118L0.588,0.809L0,0.382L-0.588,0.809L-0.363,0.118L-0.951,-0.309L-0.225,-0.309Z", "filled": true, "size": 50, "opacity": 1}, "encoding": {"y": {"field": "auc", "type": "quantitative"}, "color": {"field": "comp", "type": "nominal"}}}
    ]
   },
   {
    "width": 316, "height": 198,
    "layer": [
     {
      "data": {"name": "mpas_box"},
      "encoding": {
       "x": {"field": "week", "type": "ordinal", "scale": {"domain": [3,6,9,12], "paddingInner": 0.2, "paddingOuter": 0.1}, "axis": {"title": "Week", "labelAngle": 0, "grid": false}},
       "xOffset": {"field": "group", "type": "nominal", "scale": {"domain": ["HC","PPD","AD"], "paddingInner": 0, "paddingOuter": 0}}
      },
      "layer": [
       {"mark": {"type": "rule", "color": "#1a1a1a", "strokeWidth": 1.2}, "encoding": {"y": {"field": "lo", "type": "quantitative", "scale": {"domain": [57.3, 96.75], "nice": false, "zero": false}, "axis": {"values": [60,65,70,75,80,85,90,95], "tickCount": 40, "format": "d", "title": "Mean MPAS Score", "labelFontSize": 11.5, "titlePadding": 2, "grid": true}}, "y2": {"field": "q1"}}},
       {"mark": {"type": "rule", "color": "#1a1a1a", "strokeWidth": 1.2}, "encoding": {"y": {"field": "q3", "type": "quantitative"}, "y2": {"field": "hi"}}},
       {"mark": {"type": "tick", "color": "#1a1a1a", "size": 11, "thickness": 1.2, "opacity": 1}, "encoding": {"y": {"field": "lo", "type": "quantitative"}}},
       {"mark": {"type": "tick", "color": "#1a1a1a", "size": 11, "thickness": 1.2, "opacity": 1}, "encoding": {"y": {"field": "hi", "type": "quantitative"}}},
       {"mark": {"type": "bar", "stroke": "#1a1a1a", "strokeWidth": 1.2}, "encoding": {"y": {"field": "q1", "type": "quantitative"}, "y2": {"field": "q3"},
         "color": {"field": "group", "type": "nominal", "scale": {"domain": ["HC","PPD","AD"], "range": ["#000000","#DF2020","#7A1111"]}, "legend": {"title": null, "legendX": 128.4, "legendY": 140.6, "symbolType": "M-0.9,-0.6H2.9V0.6H-0.9Z", "symbolStrokeWidth": 0.8}}}},
       {"mark": {"type": "tick", "color": "#8a8a8a", "size": 20, "thickness": 1.5, "opacity": 1}, "encoding": {"y": {"field": "med", "type": "quantitative"}}},
       {"data": {"name": "mpas_out"}, "mark": {"type": "point", "shape": "M0,-1L0.6,0L0,1L-0.6,0Z", "filled": true, "color": "#1a1a1a", "size": 40, "opacity": 1}, "encoding": {"y": {"field": "value", "type": "quantitative"}}}
      ]
     },
     {
      "data": {"name": "mpas_br"},
      "transform": [
       {"calculate": "datum.week + (datum.a == 'HC' ? (datum.b == 'AD' ? -1.05 : -0.93) : 0.0)", "as": "x1"},
       {"calculate": "datum.week + (datum.b == 'AD' ? (datum.a == 'HC' ? 0.99 : 0.84) : -0.09)", "as": "x2"},
       {"calculate": "datum.a == 'HC' && datum.b == 'AD' ? 101.8 : 100.0", "as": "top"},
       {"calculate": "(datum.x1 + datum.x2) / 2", "as": "mid"}
      ],
      "encoding": {"x": {"field": "x1", "type": "quantitative", "scale": {"domain": [1.5, 13.5], "nice": false, "zero": false}, "axis": null}},
      "layer": [
       {"mark": {"type": "rule", "color": "#555555", "strokeWidth": 1.2}, "encoding": {"x2": {"field": "x2"}, "y": {"field": "top", "type": "quantitative", "scale": {"domain": [57.3, 96.75], "nice": false, "zero": false}, "axis": {"orient": "right", "title": "E", "titleX": -371.6, "titleY": -1, "titleAngle": 0, "titleAlign": "left", "titleBaseline": "alphabetic", "titleFont": "Liberation Serif", "titleFontSize": 33, "titleFontWeight": "bold", "titleColor": "#000000", "labels": false, "grid": false, "minExtent": 0, "maxExtent": 0, "offset": 0}}}},
       {"mark": {"type": "rule", "color": "#555555", "strokeWidth": 1.2}, "encoding": {"y": {"field": "top", "type": "quantitative"}, "y2": {"datum": 98.0}}},
       {"mark": {"type": "rule", "color": "#555555", "strokeWidth": 1.2}, "encoding": {"x": {"field": "x2", "type": "quantitative"}, "y": {"field": "top", "type": "quantitative"}, "y2": {"datum": 98.0}}},
       {"mark": {"type": "text", "text": "*", "fontSize": 11, "color": "#262626", "baseline": "alphabetic", "dy": 6}, "encoding": {"x": {"field": "mid", "type": "quantitative"}, "y": {"field": "top", "type": "quantitative"}}}
      ]
     }
    ],
    "resolve": {"scale": {"x": "independent", "y": "independent"}}
   },
   {
    "width": 316, "height": 198,
    "data": {"name": "auc_mpas"},
    "title": {"text": "MPAS"},
    "encoding": {"x": {"field": "week", "type": "quantitative", "scale": {"domain": [2.55, 12.45], "nice": false, "zero": false}, "axis": {"values": [3,6,9,12], "tickCount": 40, "format": "d", "title": "Week", "grid": true}}},
    "layer": [
     {"mark": {"type": "area", "opacity": 0.15}, "encoding": {
       "y": {"field": "lo", "type": "quantitative", "scale": {"domain": [0, 1.0], "nice": false, "zero": false}, "axis": {"values": [0,0.1,0.2,0.3,0.4,0.5,0.6,0.7,0.8,0.9,1.0], "tickCount": 40, "format": ".1f", "title": "AUC", "grid": true}},
       "y2": {"field": "hi"},
       "color": {"field": "comp", "type": "nominal", "scale": {"domain": ["HC vs. PPD","HC vs. AD","PPD vs. AD"], "range": ["#FF0000","#0000FF","#008000"]}, "legend": {"title": null, "legendX": 108.4, "legendY": 140.6, "symbolType": "M-0.85,0H3.05M1.1,-0.55L1.23,-0.18L1.62,-0.17L1.31,0.06L1.42,0.44L1.1,0.22L0.78,0.44L0.89,0.06L0.58,-0.17L0.97,-0.18Z"}}}},
     {"mark": {"type": "line", "strokeWidth": 1.5}, "encoding": {"y": {"field": "auc", "type": "quantitative"}, "color": {"field": "comp", "type": "nominal"}}},
     {"mark": {"type": "point", "shape": "M0,-1L0.225,-0.309L0.951,-0.309L0.363,0.118L0.588,0.809L0,0.382L-0.588,0.809L-0.363,0.118L-0.951,-0.309L-0.225,-0.309Z", "filled": true, "size": 50, "opacity": 1}, "encoding": {"y": {"field": "auc", "type": "quantitative"}, "color": {"field": "comp", "type": "nominal"}}}
    ]
   }
  ]
 }
]
}
